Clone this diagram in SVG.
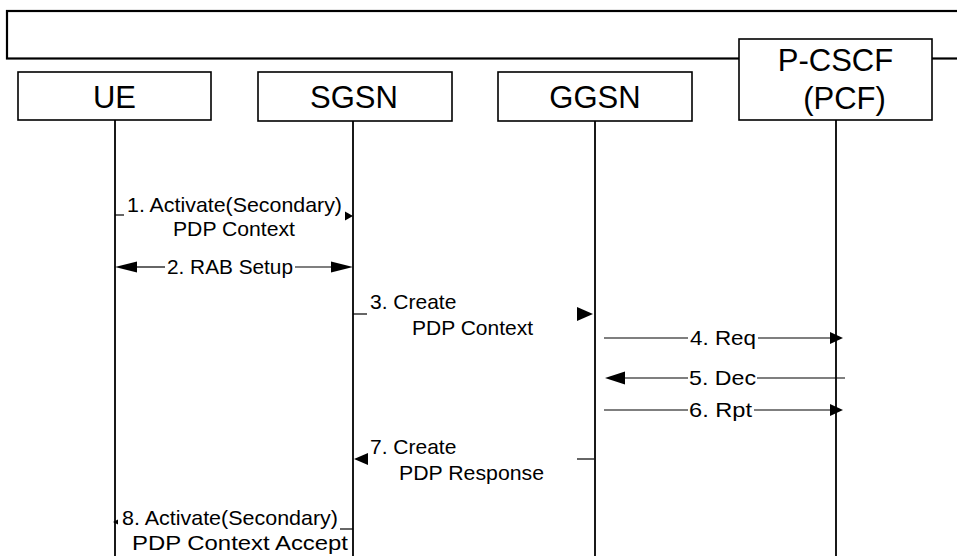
<svg xmlns="http://www.w3.org/2000/svg" width="957" height="556" viewBox="0 0 957 556">
<style>
.box{fill:#fff;stroke:#000;stroke-width:1.6}
.frame{fill:#fff;stroke:#000;stroke-width:2.2}
.life{stroke:#000;stroke-width:1.8;fill:none}
.msg{stroke:#000;stroke-width:1.2;fill:none}
.ah{fill:#000;stroke:none}
.nl{font-family:"Liberation Sans",Arial,sans-serif;font-size:31px;fill:#000}
.ml{font-family:"Liberation Sans",Arial,sans-serif;font-size:21px;fill:#000}
</style>
<rect width="957" height="556" fill="#fff"/>
<g id="frame">
<rect class="frame" x="7" y="11" width="970" height="47.5"/>
</g>
<g id="ue">
<rect class="box" x="18" y="72" width="193" height="48"/>
<text class="nl" x="114.5" y="108" text-anchor="middle">UE</text>
<line class="life" x1="115" y1="120" x2="115" y2="556"/>
</g>
<g id="sgsn">
<rect class="box" x="258" y="72" width="194" height="49"/>
<text class="nl" x="354" y="107.5" text-anchor="middle">SGSN</text>
<line class="life" x1="353" y1="121" x2="353" y2="556"/>
</g>
<g id="ggsn">
<rect class="box" x="498" y="72" width="194" height="49"/>
<text class="nl" x="595" y="107.5" text-anchor="middle">GGSN</text>
<line class="life" x1="595" y1="121" x2="595" y2="556"/>
</g>
<g id="pcscf">
<rect class="box" x="739" y="39" width="193" height="81"/>
<text class="nl" x="835.5" y="71" text-anchor="middle">P-CSCF</text>
<text class="nl" x="844.5" y="109" text-anchor="middle">(PCF)</text>
<line class="life" x1="836" y1="120" x2="836" y2="556"/>
</g>
<g id="connectors">
<!-- 1 -->
<line class="msg" x1="115" y1="215" x2="124" y2="215"/>
<polygon class="ah" points="353,216 345,211.5 345,220.5"/>
<text class="ml" x="127" y="212" textLength="215" lengthAdjust="spacingAndGlyphs">1. Activate(Secondary)</text>
<text class="ml" x="173" y="236" textLength="122" lengthAdjust="spacingAndGlyphs">PDP Context</text>
<!-- 2 -->
<line class="msg" x1="135" y1="267" x2="165" y2="267"/>
<line class="msg" x1="295" y1="267" x2="333" y2="267"/>
<polygon class="ah" points="115,267 137,261.5 137,272.5"/>
<polygon class="ah" points="353,267 331,261.5 331,272.5"/>
<text class="ml" x="167" y="274" textLength="126" lengthAdjust="spacingAndGlyphs">2. RAB Setup</text>
<!-- 3 -->
<line class="msg" x1="353" y1="314" x2="367" y2="314"/>
<polygon class="ah" points="593,314 577,307 577,321"/>
<text class="ml" x="370" y="309">3. Create</text>
<text class="ml" x="412" y="335" textLength="121" lengthAdjust="spacingAndGlyphs">PDP Context</text>
<!-- 4 -->
<line class="msg" x1="604" y1="338" x2="688" y2="338"/>
<line class="msg" x1="758" y1="338" x2="832" y2="338"/>
<polygon class="ah" points="843,338 830,332 830,344"/>
<text class="ml" x="690" y="345" textLength="66" lengthAdjust="spacingAndGlyphs">4. Req</text>
<!-- 5 -->
<line class="msg" x1="623" y1="378" x2="688" y2="378"/>
<line class="msg" x1="757" y1="378" x2="845" y2="378"/>
<polygon class="ah" points="605,378 625,371.5 625,384.5"/>
<text class="ml" x="689" y="385" textLength="67" lengthAdjust="spacingAndGlyphs">5. Dec</text>
<!-- 6 -->
<line class="msg" x1="604" y1="410" x2="688" y2="410"/>
<line class="msg" x1="754" y1="410" x2="832" y2="410"/>
<polygon class="ah" points="843,410 830,404 830,416"/>
<text class="ml" x="689" y="417" textLength="63" lengthAdjust="spacingAndGlyphs">6. Rpt</text>
<!-- 7 -->
<line class="msg" x1="577" y1="459" x2="594" y2="459" stroke="#555"/>
<polygon class="ah" points="354,459 368,453 368,465"/>
<text class="ml" x="370" y="454">7. Create</text>
<text class="ml" x="399" y="480" textLength="145" lengthAdjust="spacingAndGlyphs">PDP Response</text>
<!-- 8 -->
<line class="msg" x1="340" y1="529" x2="353" y2="529"/>
<polygon class="ah" points="113,522 118,519.5 118,524.5"/>
<text class="ml" x="122" y="525" textLength="216" lengthAdjust="spacingAndGlyphs">8. Activate(Secondary)</text>
<text class="ml" x="132" y="550" textLength="216" lengthAdjust="spacingAndGlyphs">PDP Context Accept</text>
</g>
</svg>
